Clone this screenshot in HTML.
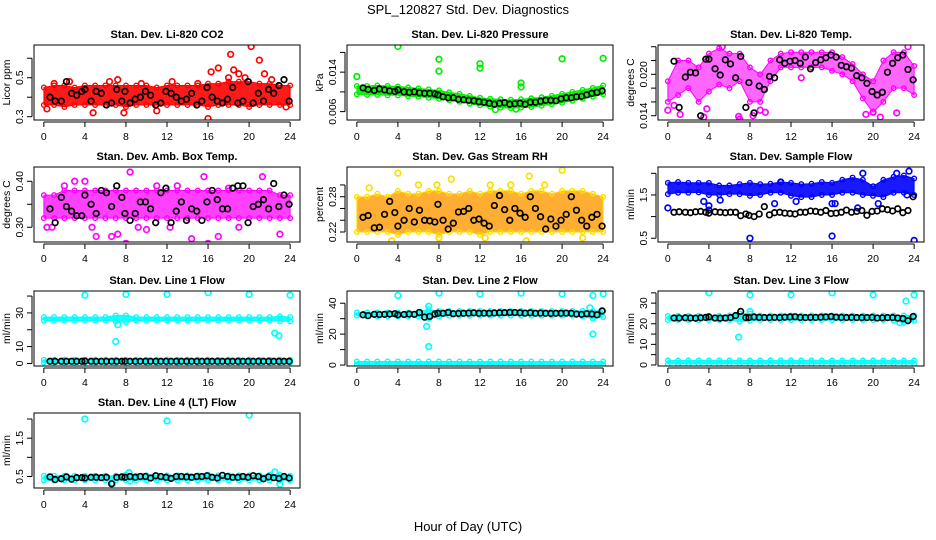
<!DOCTYPE html>
<html><head><meta charset="utf-8"><style>
body{margin:0;background:#fff}
svg{display:block;font-family:"Liberation Sans",Arial,sans-serif}
</style></head><body>
<svg id="chart" width="936" height="540" viewBox="0 0 936 540">
<text x="468" y="14" text-anchor="middle" font-size="13">SPL_120827  Std. Dev. Diagnostics</text>
<text x="468" y="531" text-anchor="middle" font-size="13">Hour of Day (UTC)</text>
</svg>
<script>
// ---- shared x data ----
const hours = [0,1,2,3,4,5,6,7,8,9,10,11,12,13,14,15,16,17,18,19,20,21,22,23,24];
const blackHours = [0.6,1.1,1.7,2.2,2.7,3.2,3.7,4.0,4.6,5.1,5.6,6.1,6.6,7.1,7.6,7.9,8.4,8.9,9.4,9.9,10.4,10.9,11.4,11.9,12.4,12.9,13.4,13.9,14.4,14.9,15.4,15.9,16.4,16.9,17.4,17.9,18.4,18.9,19.4,19.9,20.4,20.9,21.4,21.9,22.4,22.9,23.4,23.9];
const xTicks = [0,4,8,12,16,20,24];

// ---- CO2 ----
const co2Lo = [0.36,0.36,0.35,0.36,0.36,0.36,0.36,0.36,0.35,0.36,0.36,0.36,0.36,0.36,0.36,0.36,0.35,0.36,0.36,0.36,0.35,0.36,0.36,0.36,0.36];
const co2Hi = [0.45,0.46,0.46,0.45,0.46,0.46,0.46,0.46,0.46,0.46,0.46,0.45,0.46,0.46,0.46,0.46,0.47,0.47,0.48,0.48,0.48,0.47,0.47,0.46,0.46];
const co2Pts = [[0.3,0.34],[1,0.47],[2.5,0.48],[4.8,0.32],[6.4,0.48],[7.2,0.49],[7.8,0.32],[9.5,0.47],[11,0.33],[12.5,0.48],[15,0.47],[16,0.29],[16.3,0.53],[17,0.55],[18,0.5],[18.2,0.62],[18.5,0.54],[19,0.52],[19.6,0.5],[20.2,0.66],[21,0.59],[21.5,0.52],[22.2,0.49],[23.6,0.35]];
const co2Black = [0.40,0.38,0.38,0.48,0.42,0.41,0.43,0.44,0.38,0.43,0.42,0.36,0.37,0.44,0.38,0.43,0.37,0.39,0.40,0.43,0.41,0.36,0.37,0.43,0.42,0.40,0.38,0.39,0.42,0.36,0.38,0.45,0.40,0.38,0.37,0.39,0.45,0.37,0.38,0.48,0.37,0.42,0.38,0.44,0.42,0.46,0.49,0.38];

// ---- Pressure ----
const prLo = [0.0095,0.0094,0.0094,0.0093,0.0093,0.0091,0.0090,0.0088,0.0086,0.0083,0.0080,0.0076,0.0073,0.0070,0.0068,0.0067,0.0068,0.0069,0.0072,0.0075,0.0078,0.0082,0.0086,0.0090,0.0095];
const prHi = [0.0112,0.0112,0.0113,0.0112,0.0111,0.0109,0.0107,0.0105,0.0103,0.0099,0.0096,0.0092,0.0088,0.0086,0.0085,0.0084,0.0085,0.0087,0.0089,0.0092,0.0096,0.0100,0.0104,0.0108,0.0113];
const prPts = [[0,0.0131],[4,0.0192],[8,0.0166],[8,0.0142],[12,0.0157],[12,0.0148],[16,0.0118],[16,0.0110],[20,0.0167],[24,0.0168],[13.5,0.0064],[15.5,0.0065]];
const prBlack = [0.0108,0.0105,0.0103,0.0106,0.0104,0.0102,0.0101,0.0104,0.0100,0.0099,0.0100,0.0098,0.0097,0.0097,0.0096,0.0094,0.0090,0.0088,0.0088,0.0085,0.0084,0.0083,0.0082,0.0080,0.0079,0.0077,0.0075,0.0077,0.0078,0.0075,0.0076,0.0077,0.0075,0.0079,0.0079,0.0081,0.0083,0.0083,0.0082,0.0086,0.0088,0.0088,0.0090,0.0091,0.0094,0.0097,0.0099,0.0102];

// ---- Li-820 Temp ----
const tLo = [0.0160,0.0170,0.0180,0.0160,0.0175,0.0185,0.0180,0.0190,0.0160,0.0160,0.0190,0.0210,0.0210,0.0210,0.0210,0.0210,0.0205,0.0200,0.0190,0.0165,0.0145,0.0160,0.0180,0.0180,0.0170];
const tHi = [0.0190,0.0220,0.0220,0.0210,0.0230,0.0238,0.0230,0.0230,0.0210,0.0200,0.0220,0.0230,0.0232,0.0232,0.0232,0.0232,0.0232,0.0225,0.0215,0.0200,0.0190,0.0220,0.0232,0.0232,0.0212];
const tPts = [[0,0.0148],[0.6,0.0155],[1.2,0.0142],[3.5,0.0138],[3.8,0.0150],[6.9,0.0139],[7,0.0135],[8.3,0.0140],[9,0.0148],[9.5,0.0145],[13,0.0195],[19.3,0.0142],[20,0.0145],[20.7,0.0138],[22.3,0.0144],[23.4,0.0240],[5.3,0.0240]];
const tBlack = [0.0219,0.0152,0.0196,0.0203,0.0202,0.0140,0.0222,0.0222,0.0208,0.0199,0.0221,0.0215,0.0195,0.0226,0.0152,0.0188,0.0144,0.0183,0.0178,0.0197,0.0195,0.0221,0.0216,0.0219,0.0220,0.0216,0.0225,0.0208,0.0217,0.0221,0.0224,0.0228,0.0225,0.0213,0.0211,0.0209,0.0198,0.0195,0.0187,0.0175,0.0170,0.0174,0.0203,0.0216,0.0224,0.0228,0.0207,0.0192];

// ---- Amb Box Temp ----
const abLo = [0.32,0.32,0.32,0.32,0.32,0.32,0.32,0.32,0.32,0.32,0.32,0.32,0.32,0.32,0.32,0.32,0.32,0.32,0.32,0.32,0.32,0.32,0.32,0.32,0.32];
const abHi = [0.37,0.37,0.38,0.38,0.38,0.38,0.38,0.38,0.38,0.38,0.38,0.38,0.38,0.38,0.38,0.38,0.38,0.38,0.38,0.38,0.38,0.38,0.38,0.37,0.37];
const abPts = [[0.3,0.30],[0.8,0.30],[2,0.39],[3,0.40],[4,0.40],[4.7,0.30],[5.1,0.28],[6.6,0.28],[7.2,0.285],[8,0.265],[8.4,0.42],[9.2,0.30],[11,0.39],[13,0.39],[14.4,0.275],[15.6,0.41],[16,0.265],[17,0.28],[21.3,0.41],[23,0.285],[19,0.30],[10,0.295],[12.3,0.30],[18,0.385]];
const abBlack = [0.340,0.310,0.365,0.345,0.335,0.325,0.325,0.370,0.350,0.330,0.380,0.375,0.345,0.390,0.365,0.330,0.315,0.330,0.355,0.355,0.340,0.310,0.375,0.385,0.310,0.335,0.355,0.315,0.340,0.335,0.315,0.355,0.380,0.360,0.340,0.340,0.385,0.390,0.390,0.310,0.345,0.350,0.360,0.340,0.395,0.345,0.370,0.350];

// ---- Gas Stream RH ----
const rhLo = [0.22,0.22,0.22,0.22,0.215,0.22,0.22,0.22,0.215,0.22,0.22,0.22,0.215,0.22,0.22,0.22,0.22,0.22,0.22,0.22,0.22,0.22,0.22,0.22,0.22];
const rhHi = [0.28,0.28,0.285,0.28,0.29,0.285,0.285,0.29,0.29,0.285,0.285,0.29,0.285,0.29,0.29,0.29,0.285,0.29,0.29,0.285,0.29,0.29,0.29,0.285,0.28];
const rhPts = [[1.2,0.295],[4,0.32],[6,0.30],[7.8,0.30],[9.2,0.31],[13,0.30],[15,0.30],[16.8,0.315],[18.3,0.30],[20,0.325],[3.4,0.205],[8,0.21],[12.5,0.21],[16.5,0.205],[22,0.21]];
const rhBlack = [0.245,0.248,0.227,0.228,0.25,0.272,0.253,0.23,0.24,0.26,0.237,0.257,0.24,0.239,0.237,0.267,0.24,0.225,0.235,0.254,0.255,0.26,0.24,0.242,0.235,0.23,0.265,0.282,0.258,0.24,0.26,0.252,0.245,0.28,0.26,0.246,0.225,0.242,0.23,0.24,0.25,0.28,0.257,0.24,0.23,0.245,0.25,0.23];

// ---- Sample Flow ----
const sfLo = [1.52,1.55,1.55,1.56,1.50,1.50,1.52,1.52,1.48,1.50,1.55,1.55,1.48,1.45,1.45,1.50,1.50,1.55,1.55,1.50,1.48,1.45,1.55,1.55,1.50];
const sfHi = [1.78,1.80,1.78,1.78,1.78,1.72,1.72,1.75,1.78,1.75,1.76,1.80,1.78,1.75,1.76,1.80,1.78,1.85,1.90,1.85,1.70,1.85,1.92,1.95,1.88];
const sfPts = [[0,1.2],[3.5,1.35],[4,1.25],[4,1.15],[5.1,1.38],[8,0.5],[10.4,1.3],[11,1.8],[12.5,1.35],[16,0.55],[16,1.3],[16.3,1.3],[18.5,1.2],[19,2.0],[20.5,1.3],[22.3,2.0],[23.5,2.05],[24,0.45],[23.3,1.5]];
const sfBlack = [1.1,1.11,1.1,1.09,1.11,1.12,1.1,1.08,1.11,1.1,1.09,1.1,1.1,1.02,1.06,1.03,1.0,1.06,1.23,1.04,1.09,1.10,1.08,1.07,1.06,1.10,1.1,1.13,1.12,1.1,1.14,1.07,1.08,1.1,1.15,1.1,1.12,1.14,1.03,1.12,1.13,1.18,1.16,1.13,1.18,1.09,1.14,1.46];

// ---- Line 1 Flow ----
const l1Lo = [25.5,25.5,25.5,25.5,25.5,25.5,25.5,25,24.5,25.5,25.5,25.5,25.5,25.5,25.5,25.5,25.5,25.5,25.5,25.5,25.5,25.5,25.5,25,25];
const l1Hi = [27.5,27.5,27.5,27.5,27.5,27.5,27.5,28.5,28.5,27.5,27.5,27.5,27.5,27.5,27.5,27.5,27.5,27.5,27.5,27.5,27.5,27.5,27.5,28,27.5];
const l1Lo2 = [0.5,0.5,0.5,0.5,0.5,0.5,0.5,0.5,0.5,0.5,0.5,0.5,0.5,0.5,0.5,0.5,0.5,0.5,0.5,0.5,0.5,0.5,0.5,0.5,0.5];
const l1Hi2 = [2.2,2.2,2.2,2.2,2.2,2.2,2.2,2.2,2.2,2.2,2.2,2.2,2.2,2.2,2.2,2.2,2.2,2.2,2.2,2.2,2.2,2.2,2.2,2.2,2.2];
const l1Pts = [[4,40.5],[8,41],[12,41],[16,42],[20,41],[24,40.5],[7,13],[7.2,23],[22.5,18],[22.9,16.5]];
const l1Black = [1.3,1.3,1.3,1.3,1.3,1.3,1.3,1.4,1.3,1.3,1.3,1.3,1.3,1.3,1.3,1.3,1.3,1.3,1.3,1.3,1.3,1.3,1.3,1.3,1.3,1.3,1.3,1.3,1.3,1.3,1.3,1.3,1.3,1.3,1.3,1.3,1.3,1.3,1.3,1.3,1.3,1.3,1.3,1.3,1.3,1.3,1.3,1.3];

// ---- Line 2 Flow ----
const l2Lo = [32,31.5,31.5,31.5,31.5,31.5,31.5,30,31.5,32,32,32,32,32,32,32,32,32,32,32,32,32,31.5,30,31];
const l2Hi = [34,34,34,34,34,34,34.5,36,35,35,35,35,35,35,35,35,35,35,35,35,35,35,35,35,35];
const l2Lo2 = [0.3,0.3,0.3,0.3,0.3,0.3,0.3,0.3,0.3,0.3,0.3,0.3,0.3,0.3,0.3,0.3,0.3,0.3,0.3,0.3,0.3,0.3,0.3,0.3,0.3];
const l2Hi2 = [2.3,2.3,2.3,2.3,2.3,2.3,2.3,2.3,2.3,2.3,2.3,2.3,2.3,2.3,2.3,2.3,2.3,2.3,2.3,2.3,2.3,2.3,2.3,2.3,2.3];
const l2Pts = [[4,45],[8,46.5],[12,46],[16,46.5],[20,46],[23,45],[24,46],[7,12],[6.8,25],[7,38],[23,20],[22.7,37]];
const l2Black = [32.5,32,32.8,32.7,32.8,33,33.2,32.5,32.7,33,32.8,34,31,31.5,33,33.5,33.5,34,33.2,33.4,33.5,33.6,33.8,33.5,33.6,33.5,33.7,33.8,33.9,34,34,33.8,33.6,33.8,33.5,33.6,33.5,33.4,33.5,33.5,33.6,33.5,33,32.8,33.2,33,32.5,35];

// ---- Line 3 Flow ----
const l3Lo = [21.8,21.8,21.8,21.8,21.8,21.8,21.8,21,21.5,21.8,21.8,21.8,21.8,21.8,21.8,21.8,21.8,21.8,21.8,21.8,21.8,21.8,21.5,20.5,21.5];
const l3Hi = [23.8,23.8,23.8,23.8,23.8,23.8,24,25,25,24,24,24,24,24,24,24,24,24,24,24,24,24,24,24,24];
const l3Lo2 = [0.5,0.5,0.5,0.5,0.5,0.5,0.5,0.5,0.5,0.5,0.5,0.5,0.5,0.5,0.5,0.5,0.5,0.5,0.5,0.5,0.5,0.5,0.5,0.5,0.5];
const l3Hi2 = [2.2,2.2,2.2,2.2,2.2,2.2,2.2,2.2,2.2,2.2,2.2,2.2,2.2,2.2,2.2,2.2,2.2,2.2,2.2,2.2,2.2,2.2,2.2,2.2,2.2];
const l3Pts = [[4,35],[8,34],[12,34],[16,35],[20,34],[24,34],[23.2,31],[6.9,13.5],[8,26],[22.6,20.5]];
const l3Black = [22.8,22.8,22.9,22.8,22.7,22.9,23.1,23.3,22.8,22.7,22.8,23,24,26,23,23,23.3,23.1,23.0,23.0,23.1,23.0,23.2,23.3,23.4,23.1,23.0,23.1,23.1,23.2,23.3,23.5,23.2,23.1,23.0,23.1,23.0,23.0,23.0,23.1,22.8,22.9,23.0,23.0,22.8,22.5,21.5,23.5];

// ---- Line 4 Flow ----
const l4Lo = [0.40,0.40,0.40,0.40,0.40,0.40,0.40,0.40,0.40,0.40,0.40,0.40,0.40,0.40,0.40,0.40,0.40,0.40,0.40,0.40,0.40,0.40,0.40,0.40,0.40];
const l4Hi = [0.52,0.52,0.52,0.52,0.52,0.52,0.52,0.52,0.55,0.52,0.53,0.53,0.53,0.53,0.53,0.53,0.55,0.53,0.53,0.53,0.53,0.53,0.55,0.55,0.52];
const l4Pts = [[4,2.0],[12,1.95],[20,2.1],[6.7,0.32],[23,0.3],[22.5,0.62],[8.3,0.6],[8.4,0.38]];
const l4Black = [0.49,0.42,0.44,0.49,0.43,0.47,0.47,0.46,0.48,0.48,0.47,0.48,0.31,0.48,0.49,0.48,0.50,0.48,0.50,0.50,0.46,0.52,0.50,0.48,0.45,0.50,0.50,0.49,0.48,0.50,0.50,0.52,0.48,0.46,0.53,0.50,0.48,0.48,0.50,0.48,0.52,0.50,0.44,0.49,0.47,0.45,0.50,0.46];

// ---- panel configuration (layout + references to data arrays) ----
const panels = [
 {id:'co2',title:'Stan. Dev. Li-820 CO2',ylab:'Licor ppm',col:0,row:0,ymin:0.283,ymax:0.668,ticks:[0.3,0.4,0.5,0.6],labels:[0.3,0.5],fmt:1,color:'#ff0000',bands:[[co2Lo,co2Hi]],pts:co2Pts,black:co2Black},
 {id:'pressure',title:'Stan. Dev. Li-820 Pressure',ylab:'kPa',col:1,row:0,ymin:0.0043,ymax:0.0195,ticks:[0.006,0.010,0.014,0.018],labels:[0.006,0.014],fmt:3,color:'#00ee00',bands:[[prLo,prHi]],pts:prPts,black:prBlack},
 {id:'temp',title:'Stan. Dev. Li-820 Temp.',ylab:'degrees C',col:2,row:0,ymin:0.01338,ymax:0.02425,ticks:[0.014,0.016,0.018,0.020,0.022,0.024],labels:[0.014,0.020],fmt:3,color:'#ff00ff',bands:[[tLo,tHi]],pts:tPts,black:tBlack,op:0.6},
 {id:'ambbox',title:'Stan. Dev. Amb. Box Temp.',ylab:'degrees C',col:0,row:1,ymin:0.268,ymax:0.431,ticks:[0.30,0.35,0.40],labels:[0.30,0.40],fmt:2,color:'#ff00ff',bands:[[abLo,abHi]],pts:abPts,black:abBlack,op:0.75},
 {id:'rh',title:'Stan. Dev. Gas Stream RH',ylab:'percent',col:1,row:1,ymin:0.203,ymax:0.3305,ticks:[0.22,0.24,0.26,0.28,0.30],labels:[0.22,0.28],fmt:2,color:'#ff9900',stroke2:'#ffdd00',bands:[[rhLo,rhHi]],pts:rhPts,black:rhBlack,op:0.8},
 {id:'sampleflow',title:'Stan. Dev. Sample Flow',ylab:'ml/min',col:2,row:1,ymin:0.413,ymax:2.146,ticks:[0.5,1.0,1.5,2.0],labels:[0.5,1.5],fmt:1,color:'#0000ff',bands:[[sfLo,sfHi]],pts:sfPts,black:sfBlack},
 {id:'line1',title:'Stan. Dev. Line 1 Flow',ylab:'ml/min',col:0,row:2,ymin:-1.5,ymax:43,ticks:[0,10,20,30,40],labels:[0,10,30],fmt:0,color:'#00ffff',bands:[[l1Lo,l1Hi],[l1Lo2,l1Hi2]],pts:l1Pts,black:l1Black},
 {id:'line2',title:'Stan. Dev. Line 2 Flow',ylab:'ml/min',col:1,row:2,ymin:-0.6,ymax:47.9,ticks:[0,10,20,30,40],labels:[0,20,40],fmt:0,color:'#00ffff',bands:[[l2Lo,l2Hi],[l2Lo2,l2Hi2]],pts:l2Pts,black:l2Black},
 {id:'line3',title:'Stan. Dev. Line 3 Flow',ylab:'ml/min',col:2,row:2,ymin:-0.5,ymax:35.9,ticks:[0,5,10,15,20,25,30,35],labels:[0,10,20,30],fmt:0,color:'#00ffff',bands:[[l3Lo,l3Hi],[l3Lo2,l3Hi2]],pts:l3Pts,black:l3Black},
 {id:'line4',title:'Stan. Dev. Line 4 (LT) Flow',ylab:'ml/min',col:0,row:3,ymin:0.2,ymax:2.157,ticks:[0.5,1.0,1.5,2.0],labels:[0.5,1.5],fmt:1,color:'#00ffff',bands:[[l4Lo,l4Hi]],pts:l4Pts,black:l4Black}
];

const NS='http://www.w3.org/2000/svg';
const svg=document.getElementById('chart');
const colLeft=[34,347,658], rowTop=[45,167,291,413], PW=266, PH=75;
function mk(tag,attrs,parent){const e=document.createElementNS(NS,tag);for(const k in attrs)e.setAttribute(k,attrs[k]);(parent||svg).appendChild(e);return e;}

panels.forEach(p=>{
  const L=colLeft[p.col], T=rowTop[p.row], B=T+PH, R=L+PW;
  const xs=h=>L+(h+0.96)/25.92*PW;
  const ys=v=>B-(v-p.ymin)/(p.ymax-p.ymin)*PH;
  const g=mk('g',{});
  
  
  const clipId='clip-'+p.id;
  const cp=mk('clipPath',{id:clipId},g); mk('rect',{x:L,y:T,width:PW,height:PH},cp);
  const plot=mk('g',{'clip-path':'url(#'+clipId+')'},g);
  p.bands.forEach((b,bi)=>{
    const lo=b[0],hi=b[1];
    let d='M'+hours.map((h,i)=>xs(h).toFixed(1)+','+ys(hi[i]).toFixed(1)).join('L');
    d+='L'+hours.slice().reverse().map((h,j)=>{const i=hours.length-1-j;return xs(h).toFixed(1)+','+ys(lo[i]).toFixed(1);}).join('L')+'Z';
    const band=mk('path',{d:d,fill:p.color,'fill-opacity':p.op||0.9,stroke:p.stroke2||p.color,'stroke-width':1,'stroke-linejoin':'round'},plot);
    
    
    hours.forEach((h,i)=>{
      [lo[i],hi[i]].forEach(v=>{
        const c=mk('circle',{cx:xs(h),cy:ys(v),r:2.3,fill:'none',stroke:p.stroke2||p.color,'stroke-width':1.4},plot);
        
        
      });
    });
  });
  p.pts.forEach(pt=>{
    const c=mk('circle',{cx:xs(pt[0]),cy:ys(pt[1]),r:2.8,fill:'none',stroke:p.stroke2||p.color,'stroke-width':1.7},plot);
    
    
  });
  p.black.forEach((v,i)=>{
    const c=mk('circle',{cx:xs(blackHours[i]),cy:ys(v),r:2.8,fill:'none',stroke:'#000','stroke-width':1.7},plot);
    
    
  });
  const box=mk('rect',{x:L,y:T,width:PW,height:PH,fill:'none',stroke:'#000','stroke-width':1},g);
  
  
  const t=mk('text',{x:L+PW/2,y:T-7,'text-anchor':'middle','font-size':11,'font-weight':'bold'},g);
  t.textContent=p.title;
  
  
  const xa=mk('g',{},g);
  
  
  mk('line',{x1:xs(0),x2:xs(24),y1:B+2,y2:B+2,stroke:'#000'},xa);
  xTicks.forEach(h=>{
    mk('line',{x1:xs(h),x2:xs(h),y1:B+2,y2:B+7,stroke:'#000'},xa);
    const tl=mk('text',{x:xs(h),y:B+20,'text-anchor':'middle','font-size':10.5},xa);
    tl.textContent=h;
    
    
  });
  const ya=mk('g',{},g);
  
  
  mk('line',{x1:L-2,x2:L-2,y1:ys(p.ticks[0]),y2:ys(p.ticks[p.ticks.length-1]),stroke:'#000'},ya);
  p.ticks.forEach(v=>{mk('line',{x1:L-7,x2:L-2,y1:ys(v),y2:ys(v),stroke:'#000'},ya);});
  p.labels.forEach(v=>{
    const yl=mk('text',{x:L-11,y:ys(v),'text-anchor':'middle','font-size':10.5,transform:'rotate(-90 '+(L-11)+' '+ys(v)+')'},ya);
    yl.textContent=v.toFixed(p.fmt);
    
    
  });
  const yt=mk('text',{x:L-24,y:T+PH/2,'text-anchor':'middle','font-size':10.5,transform:'rotate(-90 '+(L-24)+' '+(T+PH/2)+')'},g);
  yt.textContent=p.ylab;
  
  
});
</script>
</body></html>
